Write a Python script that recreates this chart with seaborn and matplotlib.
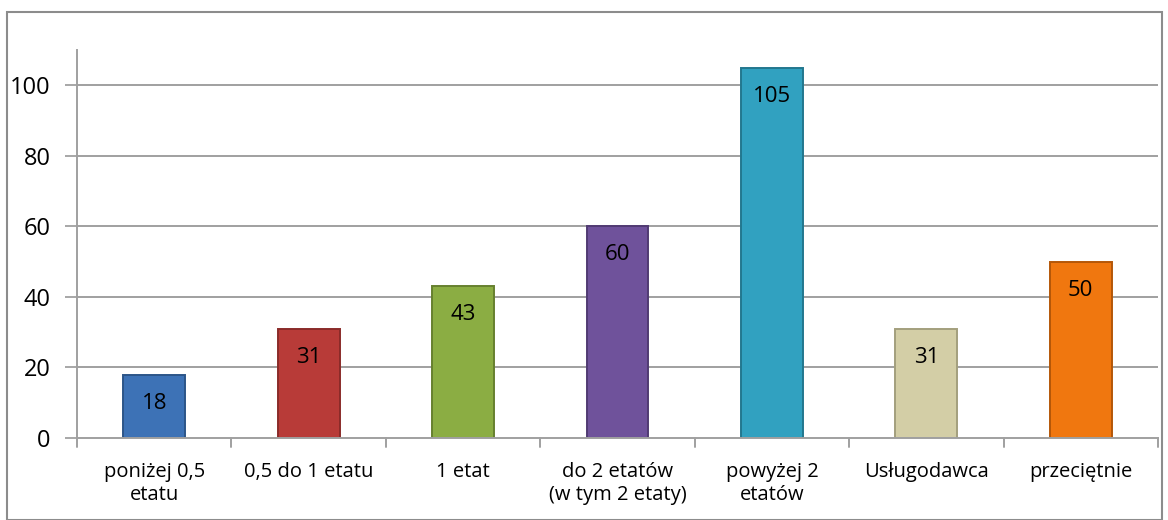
import matplotlib
matplotlib.use("Agg")
import matplotlib.pyplot as plt
import seaborn as sns
import pandas as pd
from matplotlib.patches import Rectangle

categories = ["poniżej 0,5\netatu", "0,5 do 1 etatu", "1 etat", "do 2 etatów\n(w tym 2 etaty)",
              "powyżej 2\netatów", "Usługodawca", "przeciętnie"]
values = [18, 31, 43, 60, 105, 31, 50]
labels = ["18", "31", "43", "60", "105", "31", "50"]
colors = ["#3d72b6", "#b83b38", "#8bad43", "#6f529b", "#31a1c0", "#d3cea6", "#f0770f"]
edge_colors = ["#2c5588", "#8a2b29", "#66802f", "#513b73", "#22778e", "#a39f7d", "#b45708"]
yticks = [0, 20, 40, 60, 80, 100]

sns.set_theme(style="white")
plt.rcParams['font.family'] = ['Open Sans', 'DejaVu Sans']

fig = plt.figure(figsize=(11.68, 5.2), dpi=100)
ax = fig.add_axes([77/1168, (520-438)/520, (1158-77)/1168, (438-50)/520])

df = pd.DataFrame({"cat": categories, "val": values})
sns.barplot(data=df, x="cat", y="val", hue="cat", palette=colors, legend=False,
            width=0.4, ax=ax, saturation=1)

for i, p in enumerate(ax.patches):
    p.set_edgecolor(edge_colors[i])
    p.set_linewidth(1.4)

for i, p in enumerate(ax.patches):
    x = p.get_x() + p.get_width() / 2
    ax.annotate(labels[i], (x, p.get_height()), xytext=(0, -13), textcoords="offset points",
                ha="center", va="top", fontsize=16, color="black")

ax.set_ylim(0, 110)
ax.set_xlim(-0.5, len(categories) - 0.5)
ax.set_yticks(yticks)
ax.set_yticklabels([str(v) for v in yticks], fontsize=17, color="black")
ax.tick_params(axis="x", labelsize=14.5, length=0, pad=17, labelcolor="black")
ax.tick_params(axis="y", length=9, width=1.3, color="#a0a0a0", pad=10, left=True, labelcolor="black")
ax.set_xlabel("")
ax.set_ylabel("")

for y in yticks[1:]:
    ax.axhline(y, color="#a0a0a0", lw=1.4, zorder=0)
ax.set_axisbelow(True)

for s in ["top", "right"]:
    ax.spines[s].set_visible(False)
ax.spines["left"].set_color("#a0a0a0")
ax.spines["left"].set_linewidth(1.4)
ax.spines["bottom"].set_color("#a0a0a0")
ax.spines["bottom"].set_linewidth(1.4)

# category boundary ticks on x axis
for b in [k - 0.5 for k in range(len(categories) + 1)]:
    ax.plot([b, b], [0, -2.6], color="#a0a0a0", lw=1.4, clip_on=False,
            transform=ax.transData)

fig.patches.append(Rectangle((7/1168, 0), (1162-7)/1168, (520-12)/520,
                             transform=fig.transFigure, fill=False,
                             edgecolor="#8c8c8c", lw=1.5))

fig.savefig("out.png", dpi=100)
